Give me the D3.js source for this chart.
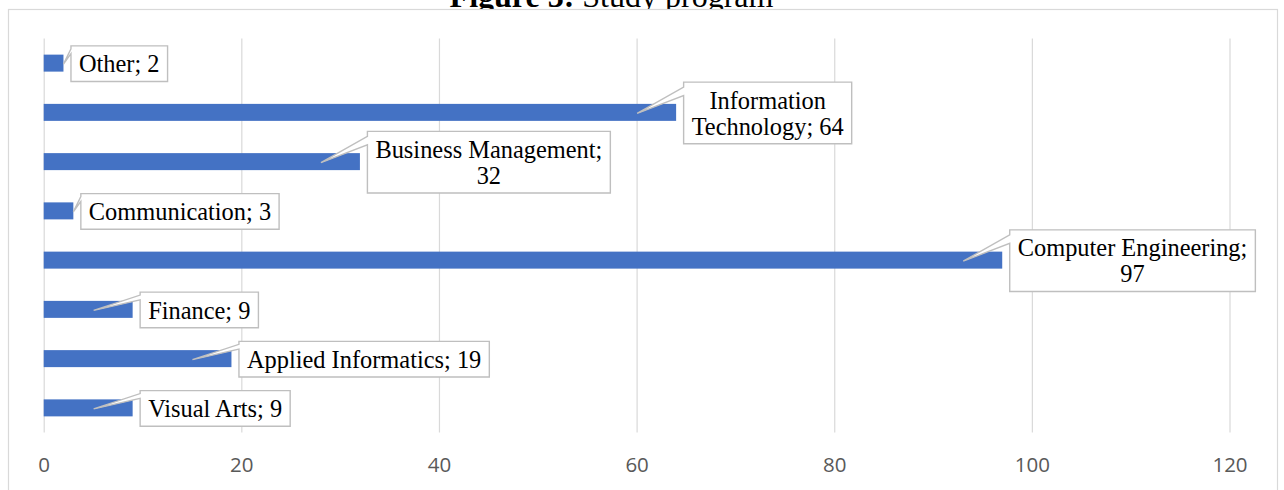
<!DOCTYPE html>
<html>
<head>
<meta charset="utf-8">
<script src="https://cdn.jsdelivr.net/npm/d3@7"></script>
<style>
  html, body { margin: 0; padding: 0; background: #fff; }
  svg { display: block; }
</style>
</head>
<body>
<div id="app"></div>
<script>
// study programs, top to bottom as drawn
const categories = [
  "Other",
  "Information Technology",
  "Business Management",
  "Communication",
  "Computer Engineering",
  "Finance",
  "Applied Informatics",
  "Visual Arts"
];
const values = [2, 64, 32, 3, 97, 9, 19, 9];
const labelText = [
  "Other; 2",
  "Information\nTechnology; 64",
  "Business Management;\n32",
  "Communication; 3",
  "Computer Engineering;\n97",
  "Finance; 9",
  "Applied Informatics; 19",
  "Visual Arts; 9"
];
const xTicks = [0, 20, 40, 60, 80, 100, 120];

const width = 1284;
const height = 490;
const gridTop = 38.5;
const gridBottom = 432.5;

const svg = d3
  .select("#app")
  .append("svg")
  .attr("width", width)
  .attr("height", height);

// title sits behind the chart area, so its lower part is hidden
const title = svg
  .append("text")
  .attr("x", 611.5)
  .attr("y", 7)
  .attr("text-anchor", "middle")
  .style("font-family", "'Liberation Serif', 'Times New Roman', serif")
  .style("font-size", "32px")
  .attr("fill", "#000");
title.append("tspan").style("font-weight", "bold").text("Figure 3:");
title.append("tspan").text(" Study program");

svg
  .append("rect")
  .attr("x", 8.5)
  .attr("y", 9.5)
  .attr("width", 1269)
  .attr("height", 520)
  .attr("fill", "#fff")
  .attr("stroke", "#d9d9d9")
  .attr("stroke-width", 1.2);

const x = d3.scaleLinear().domain([0, 120]).range([43.7, 1229.5]);

const y = d3
  .scaleBand()
  .domain(categories)
  .range([gridTop, gridBottom])
  .paddingInner(0.655)
  .paddingOuter(0.3275);

const xAxis = d3
  .axisBottom(x)
  .tickValues(xTicks)
  .tickSize(-(gridBottom - gridTop))
  .tickPadding(25)
  .tickFormat(d3.format("d"));

const axisG = svg
  .append("g")
  .attr("transform", `translate(0, ${gridBottom})`)
  .call(xAxis);
axisG.select(".domain").remove();
axisG.selectAll(".tick line").attr("stroke", "#d9d9d9").attr("stroke-width", 1.2);
axisG
  .selectAll(".tick text")
  .attr("fill", "#595959")
  .style("font-family", "'Open Sans', 'Liberation Sans', sans-serif")
  .style("font-size", "20.5px");

svg
  .selectAll("rect.bar")
  .data(categories)
  .enter()
  .append("rect")
  .attr("class", "bar")
  .attr("x", x(0))
  .attr("y", d => y(d))
  .attr("width", (d, i) => x(values[i]) - x(0))
  .attr("height", y.bandwidth())
  .attr("fill", "#4472c4");

// data label callouts
const labels = svg
  .selectAll("g.label")
  .data(categories)
  .enter()
  .append("g")
  .attr("class", "label");

labels.each(function(d, i) {
  const g = d3.select(this);
  const lines = labelText[i].split("\n");
  const barEnd = x(values[i]);
  const cy = y(d) + y.bandwidth() / 2;

  const path = g.append("path");
  const txt = g
    .append("text")
    .attr("text-anchor", "middle")
    .style("font-family", "'Liberation Serif', 'Times New Roman', serif")
    .style("font-size", "24.4px")
    .attr("fill", "#000");
  const spans = lines.map(l => txt.append("tspan").text(l));
  const textW = d3.max(spans, s => s.node().getComputedTextLength());

  const boxW = textW + 16;
  const boxH = 26 * lines.length + 9.6;
  const left = barEnd + 7.5;
  const top = cy + 0.5 - boxH / 2;

  spans.forEach((s, k) => {
    s.attr("x", left + boxW / 2).attr("y", top + 26.5 + 26 * k);
  });

  const tipX = barEnd - 39 > x(0) + 15 ? barEnd - 39 : barEnd;
  const tipY = cy + 1;

  const p = d3.path();
  p.moveTo(left, top);
  p.lineTo(left + boxW, top);
  p.lineTo(left + boxW, top + boxH);
  p.lineTo(left, top + boxH);
  p.lineTo(left, top + boxH * 0.22);
  p.lineTo(tipX, tipY);
  p.lineTo(left, top + boxH / 12);
  p.closePath();

  path
    .attr("d", p.toString())
    .attr("fill", "#fff")
    .attr("stroke", "#bfbfbf")
    .attr("stroke-width", 1.4);
});
</script>
</body>
</html>
